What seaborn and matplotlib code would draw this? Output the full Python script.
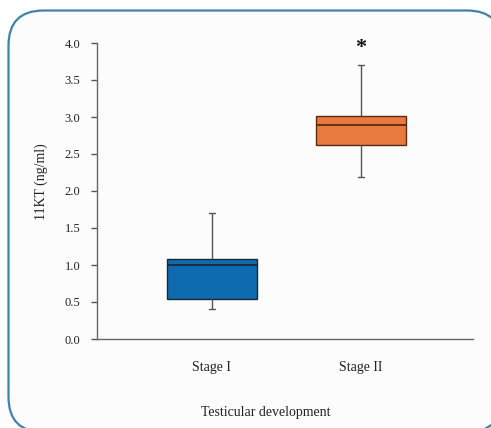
import numpy as np
import pandas as pd
import matplotlib
matplotlib.use('Agg')
import matplotlib.pyplot as plt
import seaborn as sns
from matplotlib.patches import FancyBboxPatch
from matplotlib.transforms import IdentityTransform

# five-number summaries (min, Q1, median, Q3, max)
stages = ['Stage I', 'Stage II']
stage1_vals = [0.40, 0.54, 1.00, 1.08, 1.70]
stage2_vals = [2.19, 2.62, 2.89, 3.01, 3.70]
box_colors = ['#0E6BAF', '#E97A3F']
edge_colors = ['#1B2838', '#5A2A12']
yticks = [0.0, 0.5, 1.0, 1.5, 2.0, 2.5, 3.0, 3.5, 4.0]

df = pd.DataFrame({
    'stage': [stages[0]] * len(stage1_vals) + [stages[1]] * len(stage2_vals),
    'kt': stage1_vals + stage2_vals,
})

sns.set_style('white')
plt.rcParams['font.family'] = ['Liberation Serif', 'DejaVu Serif']

fig = plt.figure(figsize=(4.91, 4.28), dpi=100)
fig.patch.set_facecolor('white')

# rounded frame round the panel
frame = FancyBboxPatch((8.5, 428 - 432), 493.5, 421.5,
                       boxstyle='round,pad=0,rounding_size=35',
                       transform=IdentityTransform(), facecolor='#FCFCFC',
                       edgecolor='#3F82AA', linewidth=1.6, clip_on=False,
                       zorder=-5)
fig.add_artist(frame)

ax = fig.add_axes([97 / 491, 1 - 339 / 428, 376 / 491, 296 / 428])
ax.set_facecolor('none')

sns.boxplot(data=df, x='stage', y='kt', hue='stage', palette=box_colors,
            saturation=1, whis=(0, 100), width=0.6, linewidth=1.0,
            linecolor='#555555', legend=False, ax=ax)

# box edges and medians darker, caps short
for i, patch in enumerate(ax.patches):
    patch.set_edgecolor(edge_colors[i])
    patch.set_linewidth(1.0)

lines_per_box = len(ax.lines) // 2
for b in range(2):
    group = ax.lines[b * lines_per_box:(b + 1) * lines_per_box]
    for ln in group:
        xd = np.asarray(ln.get_xdata(), dtype=float)
        yd = np.asarray(ln.get_ydata(), dtype=float)
        if len(xd) == 2 and yd[0] == yd[1]:
            if xd[1] - xd[0] > 0.3:
                ln.set_color(edge_colors[b])
                ln.set_linewidth(1.3)
            else:
                c = (xd[0] + xd[1]) / 2
                ln.set_xdata([c - 0.02, c + 0.02])
                ln.set_color('#555555')

ax.set_xlim(-0.77, 1.75)
ax.set_ylim(0, 4.0)
ax.set_yticks(yticks)
ax.set_yticklabels([f'{v:.1f}' for v in yticks], fontsize=9)
ax.tick_params(axis='y', left=True, length=4, width=1, color='#555555', pad=8, labelcolor='#222222')
ax.tick_params(axis='x', bottom=False, length=0, pad=16, labelsize=10, labelcolor='#222222')

for s in ['top', 'right']:
    ax.spines[s].set_visible(False)
for s in ['left', 'bottom']:
    ax.spines[s].set_color('#666666')
    ax.spines[s].set_linewidth(1.0)

ax.set_xlabel('Testicular development', fontsize=10, color='#222222')
ax.xaxis.set_label_coords(0.45, -0.225)
ax.set_ylabel('11KT (ng/ml)', fontsize=10, color='#222222')
ax.yaxis.set_label_coords(-0.13, 0.53)

ax.text(1, 3.93, '*', ha='center', va='center', fontsize=16, fontweight='bold', color='#111111')

fig.savefig('out.png', dpi=100)
